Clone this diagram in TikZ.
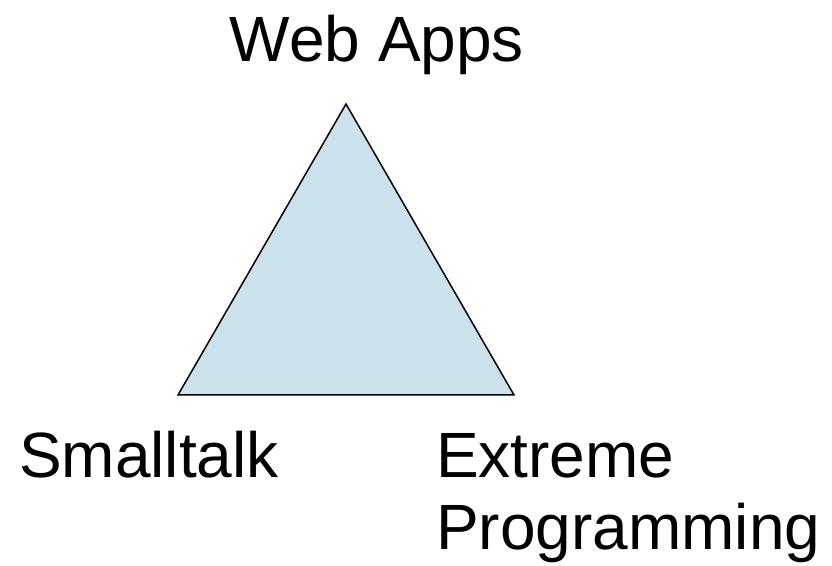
\documentclass[tikz,border=0pt]{standalone}
\usepackage{fontspec}
\setmainfont{Liberation Sans}
\definecolor{trifill}{RGB}{203,226,236}
\begin{document}
\begin{tikzpicture}[x=1pt,y=1pt,
  lbl/.style={inner sep=0pt,font=\fontsize{64}{72}\selectfont}]
\useasboundingbox (0,0) rectangle (832,565);
\coordinate (top) at (346,461);
\coordinate (bl) at (178,170);
\coordinate (br) at (514,170);
\filldraw[fill=trifill,draw=black,line width=1.5pt,line join=miter] (top) -- (bl) -- (br) -- cycle;
\node[lbl,anchor=base] (web) at (377,503) {Web Apps};
\node[lbl,anchor=base west] (st) at (19,88) {Smalltalk};
\node[lbl,anchor=base west] (xp1) at (436,88) {Extreme};
\node[lbl,anchor=base west] (xp2) at (436,16) {Programming};
\end{tikzpicture}
\end{document}
